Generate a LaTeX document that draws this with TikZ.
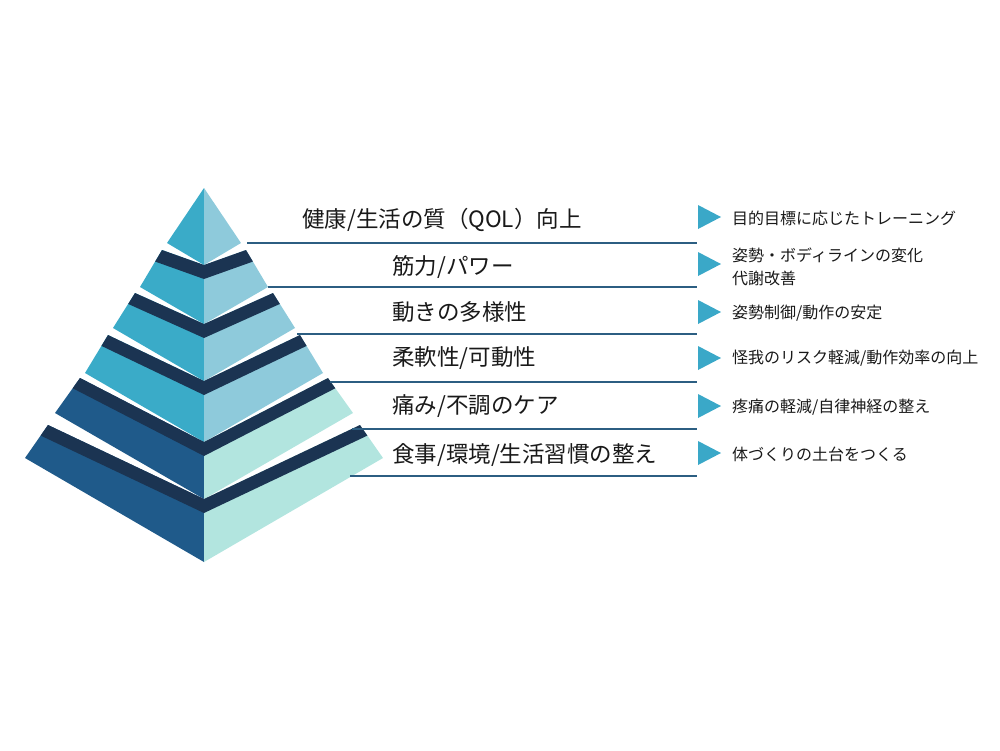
\documentclass[tikz,border=0pt]{standalone}
\usepackage{fontspec}
\newfontfamily\jp{Noto Sans CJK JP}
\definecolor{cyanL}{HTML}{3AABC8}
\definecolor{cyanR}{HTML}{8ECADB}
\definecolor{navyL}{HTML}{1F5A8A}
\definecolor{mintR}{HTML}{B2E5DF}
\definecolor{band}{HTML}{1B3452}
\definecolor{rule}{HTML}{2C5E82}
\definecolor{tri}{HTML}{3AA8C8}
\tikzset{
  lbl/.style={anchor=west,inner sep=0pt,font=\jp\fontsize{22.5}{26}\selectfont,text=black!90},
  desc/.style={anchor=west,inner sep=0pt,font=\jp\fontsize{16}{23}\selectfont,text=black!90,align=left},
  rl/.style={draw=rule,line width=1.3pt},
  arr/.style={fill=tri}
}
\newcommand{\mytier}[8]{%
  \fill[#7] (#1,#2) -- (204,#5) -- (204,#6) -- (#3,#4) -- cycle;
  \fill[#8] ({408-#1},#2) -- (204,#5) -- (204,#6) -- ({408-#3},#4) -- cycle;
  \fill[band] (#1,#2) -- (204,#5) -- ({408-#1},#2)
    -- (intersection of {204,#5+14}--{408-#1,#2+14} and {408-#1},#2--{408-#3},#4)
    -- (204,#5+14)
    -- (intersection of {204,#5+14}--{#1,#2+14} and #1,#2--#3,#4) -- cycle;
}
\begin{document}
\begin{tikzpicture}[x=1pt,y=-1pt]
\useasboundingbox (0,0) rectangle (1000,750);
% tier 1
\fill[cyanL] (204,188) -- (204,265) -- (167,243) -- cycle;
\fill[cyanR] (204,188) -- (204,265) -- (241,243) -- cycle;
\mytier{162}{250}{140}{287}{265}{324}{cyanL}{cyanR}
\mytier{135}{293}{113}{328}{324}{381}{cyanL}{cyanR}
\mytier{108}{335}{85}{373}{381}{442}{cyanL}{cyanR}
\mytier{80}{378}{55}{413}{442}{499}{navyL}{mintR}
\mytier{48}{425}{25}{458}{499}{562}{navyL}{mintR}
% rules
\coordinate (a1) at (247,243); \coordinate (b1) at (697,243);
\coordinate (a2) at (268,287); \coordinate (b2) at (697,287);
\coordinate (a3) at (297,334); \coordinate (b3) at (697,334);
\coordinate (a4) at (330,382); \coordinate (b4) at (697,382);
\coordinate (a5) at (352,429); \coordinate (b5) at (697,429);
\coordinate (a6) at (350,476); \coordinate (b6) at (697,476);
\foreach \i in {1,...,6} {\draw[rl] (a\i) -- (b\i);}
% labels
\node[lbl] (l1) at (302,220) {健康/生活の質（QOL）向上};
\node[lbl] (l2) at (392,267) {筋力/パワー};
\node[lbl] (l3) at (392,312) {動きの多様性};
\node[lbl] (l4) at (392,358) {柔軟性/可動性};
\node[lbl] (l5) at (392,406) {痛み/不調のケア};
\node[lbl] (l6) at (392,455) {食事/環境/生活習慣の整え};
% triangles
\foreach \y in {217,264,312,358,406,453} {
  \fill[arr] (698,\y-12) -- (721,\y) -- (698,\y+12) -- cycle;
}
% descriptions
\node[desc] (d1) at (732,218) {目的目標に応じたトレーニング};
\node[desc] (d2) at (732,267) {姿勢・ボディラインの変化\\代謝改善};
\node[desc] (d3) at (732,313) {姿勢制御/動作の安定};
\node[desc] (d4) at (732,358) {怪我のリスク軽減/動作効率の向上};
\node[desc] (d5) at (732,407) {疼痛の軽減/自律神経の整え};
\node[desc] (d6) at (732,454) {体づくりの土台をつくる};
\end{tikzpicture}
\end{document}
